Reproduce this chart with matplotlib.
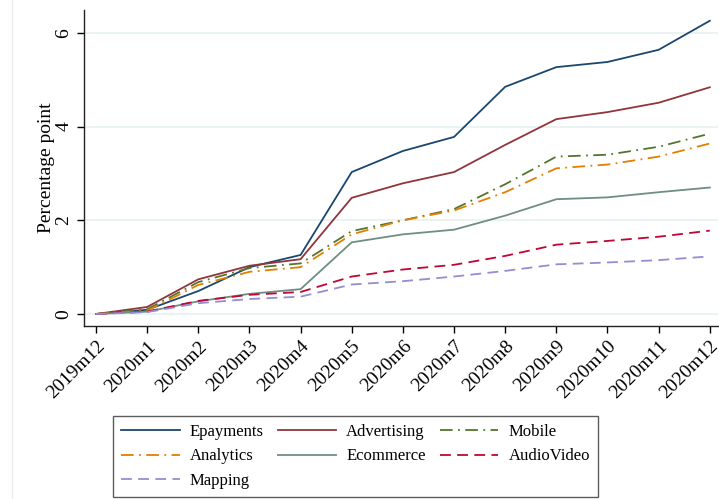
import matplotlib.pyplot as plt
from matplotlib.lines import Line2D

# --- Data (cumulative change, percentage points) ---
months = ['2019m12', '2020m1', '2020m2', '2020m3', '2020m4', '2020m5', '2020m6',
          '2020m7', '2020m8', '2020m9', '2020m10', '2020m11', '2020m12']
epayments   = [0, 0.09, 0.49, 1.00, 1.26, 3.03, 3.48, 3.78, 4.85, 5.27, 5.38, 5.64, 6.26]
advertising = [0, 0.15, 0.74, 1.03, 1.17, 2.48, 2.79, 3.03, 3.61, 4.16, 4.31, 4.51, 4.84]
mobile      = [0, 0.10, 0.68, 0.98, 1.08, 1.77, 2.00, 2.24, 2.77, 3.36, 3.40, 3.57, 3.85]
analytics   = [0, 0.07, 0.62, 0.90, 1.00, 1.70, 2.00, 2.21, 2.60, 3.11, 3.19, 3.36, 3.64]
ecommerce   = [0, 0.05, 0.27, 0.43, 0.53, 1.53, 1.70, 1.80, 2.10, 2.45, 2.49, 2.60, 2.70]
audiovideo  = [0, 0.05, 0.28, 0.41, 0.47, 0.80, 0.95, 1.05, 1.24, 1.48, 1.56, 1.65, 1.78]
mapping     = [0, 0.04, 0.23, 0.32, 0.37, 0.63, 0.70, 0.80, 0.92, 1.06, 1.10, 1.15, 1.23]

x = list(range(len(months)))

plt.rcParams['font.family'] = ['Liberation Serif', 'DejaVu Serif']

fig = plt.figure(figsize=(7.19, 4.99), dpi=100)
fig.patch.set_facecolor('white')
ax = fig.add_axes([0.1168, 0.3467, 0.8818, 0.6333])

DASHDOT = (0, (7, 3, 1, 3))
DASHED = (0, (6, 3.5))
series = [
    ('Epayments',   epayments,   '#1a476f', '-'),
    ('Advertising', advertising, '#90353b', '-'),
    ('Mobile',      mobile,      '#55752f', DASHDOT),
    ('Analytics',   analytics,   '#e37e00', DASHDOT),
    ('Ecommerce',   ecommerce,   '#6e8e84', '-'),
    ('AudioVideo',  audiovideo,  '#c10534', DASHED),
    ('Mapping',     mapping,     '#938dd2', DASHED),
]
lines = {}
for name, vals, col, ls in series:
    ln, = ax.plot(x, vals, color=col, linestyle=ls, linewidth=1.3, label=name, zorder=3)
    lines[name] = ln

# --- Axes ---
ax.set_xlim(-0.234, 12.16)
ax.set_ylim(-0.256, 6.49)
ax.set_xticks(x)
ax.set_xticklabels(months, rotation=45, ha='right', rotation_mode='anchor', fontsize=14)
ax.set_yticks([0, 2, 4, 6])
ax.set_yticklabels(['0', '2', '4', '6'], rotation=90, va='center', fontsize=14)
ax.tick_params(axis='both', length=5, width=1, color='black')
ax.set_ylabel('Percentage point', fontsize=14, labelpad=0)

ax.yaxis.grid(True, color='#e6f0f1', linewidth=1.2, zorder=0)
ax.set_axisbelow(True)

for s in ['top', 'right']:
    ax.spines[s].set_visible(False)
for s in ['left', 'bottom']:
    ax.spines[s].set_color('#222222')
    ax.spines[s].set_linewidth(1.0)

# --- Legend below the plot, filled row by row ---
order = ['Epayments', 'Analytics', 'Mapping', 'Advertising', 'Ecommerce', 'Mobile', 'AudioVideo']
leg = fig.legend(handles=[lines[n] for n in order], loc='lower left', ncol=3,
                 bbox_to_anchor=(0.157, 0.004, 0.675, 0.174), mode='expand',
                 fontsize=12, frameon=True, fancybox=False,
                 edgecolor='#333333', handlelength=3.5, handletextpad=0.6,
                 labelspacing=0.5, borderpad=0.5, borderaxespad=0)
leg.get_frame().set_linewidth(1.0)

# thin border line on the left edge of the page
fig.add_artist(Line2D([0.0167, 0.0167], [0, 1], transform=fig.transFigure,
                      color='#eeeeee', linewidth=1))

plt.savefig('out.png', dpi=100)
